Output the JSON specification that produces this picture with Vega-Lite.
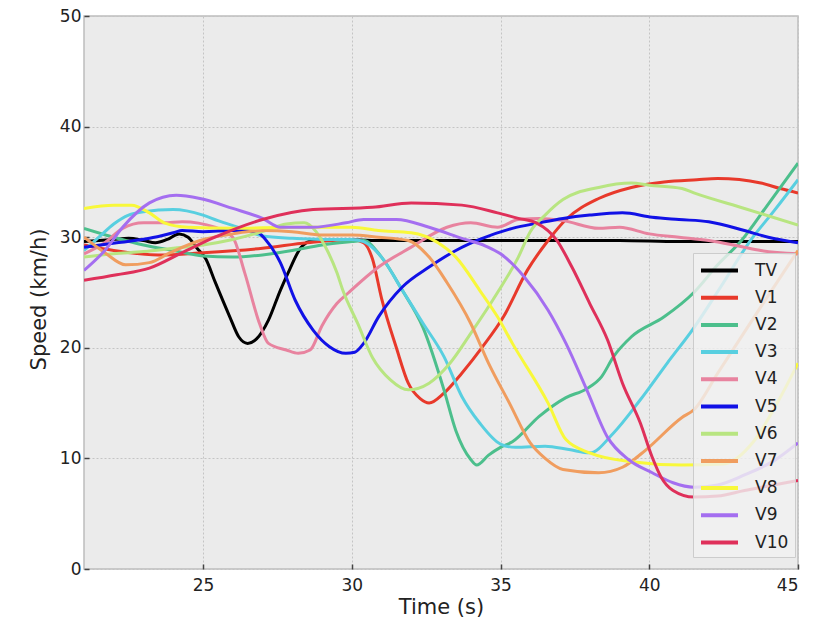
{
"$schema":"https://vega.github.io/schema/vega-lite/v6.json",
"width":714,"height":553,
"autosize":{"type":"none"},
"padding":{"left":84,"top":16,"right":33,"bottom":55},
"background":"white",
"datasets":{"d":[
{"s":"TV","t":21,"v":29.6},{"s":"TV","t":21.5,"v":29.7},{"s":"TV","t":22,"v":29.8},{"s":"TV","t":22.5,"v":29.9},{"s":"TV","t":23,"v":29.7},{"s":"TV","t":23.4,"v":29.5},{"s":"TV","t":23.8,"v":29.8},{"s":"TV","t":24.2,"v":30.3},{"s":"TV","t":24.5,"v":30},{"s":"TV","t":24.8,"v":29},{"s":"TV","t":25.1,"v":28},{"s":"TV","t":25.4,"v":26},{"s":"TV","t":25.9,"v":22.8},{"s":"TV","t":26.2,"v":21},{"s":"TV","t":26.5,"v":20.4},{"s":"TV","t":26.8,"v":20.8},{"s":"TV","t":27.2,"v":22.5},{"s":"TV","t":27.6,"v":25.2},{"s":"TV","t":27.9,"v":27},{"s":"TV","t":28.3,"v":29.1},{"s":"TV","t":28.7,"v":29.7},{"s":"TV","t":29.5,"v":29.8},{"s":"TV","t":31,"v":29.7},{"s":"TV","t":33,"v":29.7},{"s":"TV","t":35,"v":29.7},{"s":"TV","t":37,"v":29.7},{"s":"TV","t":39,"v":29.7},{"s":"TV","t":41,"v":29.6},{"s":"TV","t":43,"v":29.6},{"s":"TV","t":45,"v":29.6},

{"s":"V1","t":21,"v":29.3},{"s":"V1","t":22,"v":28.8},{"s":"V1","t":23.5,"v":28.4},{"s":"V1","t":25,"v":28.6},{"s":"V1","t":27,"v":29},{"s":"V1","t":28.5,"v":29.5},{"s":"V1","t":30,"v":29.8},{"s":"V1","t":30.4,"v":29.5},{"s":"V1","t":30.7,"v":28},{"s":"V1","t":31,"v":24.5},{"s":"V1","t":31.5,"v":20},{"s":"V1","t":31.9,"v":16.8},{"s":"V1","t":32.3,"v":15.4},{"s":"V1","t":32.6,"v":15},{"s":"V1","t":33.1,"v":15.9},{"s":"V1","t":33.7,"v":17.7},{"s":"V1","t":34.4,"v":20.1},{"s":"V1","t":35.1,"v":22.8},{"s":"V1","t":35.9,"v":27},{"s":"V1","t":36.6,"v":29.7},{"s":"V1","t":37.2,"v":31.6},{"s":"V1","t":38.3,"v":33.5},{"s":"V1","t":39.4,"v":34.5},{"s":"V1","t":40.5,"v":35},{"s":"V1","t":41.6,"v":35.2},{"s":"V1","t":42.3,"v":35.3},{"s":"V1","t":43.75,"v":34.9},{"s":"V1","t":44.4,"v":34.4},{"s":"V1","t":45,"v":34},

{"s":"V2","t":21,"v":30.8},{"s":"V2","t":22,"v":30},{"s":"V2","t":23,"v":29.3},{"s":"V2","t":24,"v":28.8},{"s":"V2","t":25,"v":28.3},{"s":"V2","t":26,"v":28.2},{"s":"V2","t":27,"v":28.4},{"s":"V2","t":28,"v":28.8},{"s":"V2","t":29,"v":29.3},{"s":"V2","t":30,"v":29.6},{"s":"V2","t":30.4,"v":29.7},{"s":"V2","t":31,"v":28.2},{"s":"V2","t":31.7,"v":25.2},{"s":"V2","t":32.4,"v":21.8},{"s":"V2","t":33.1,"v":16.2},{"s":"V2","t":33.5,"v":12.5},{"s":"V2","t":34,"v":9.9},{"s":"V2","t":34.2,"v":9.4},{"s":"V2","t":34.6,"v":10.3},{"s":"V2","t":35,"v":11},{"s":"V2","t":35.4,"v":11.5},{"s":"V2","t":36.3,"v":13.8},{"s":"V2","t":37.2,"v":15.5},{"s":"V2","t":37.9,"v":16.3},{"s":"V2","t":38.4,"v":17.4},{"s":"V2","t":38.8,"v":19.2},{"s":"V2","t":39.4,"v":21},{"s":"V2","t":40.5,"v":22.8},{"s":"V2","t":41.5,"v":25},{"s":"V2","t":42.3,"v":27.5},{"s":"V2","t":43.1,"v":29.7},{"s":"V2","t":44,"v":33},{"s":"V2","t":45,"v":36.7},

{"s":"V3","t":21,"v":28.8},{"s":"V3","t":21.5,"v":30},{"s":"V3","t":22,"v":31.2},{"s":"V3","t":22.5,"v":32},{"s":"V3","t":23,"v":32.3},{"s":"V3","t":24,"v":32.5},{"s":"V3","t":25,"v":32},{"s":"V3","t":25.5,"v":31.5},{"s":"V3","t":26.3,"v":30.8},{"s":"V3","t":27,"v":30.1},{"s":"V3","t":28,"v":29.9},{"s":"V3","t":29,"v":29.8},{"s":"V3","t":30,"v":29.8},{"s":"V3","t":30.4,"v":29.6},{"s":"V3","t":31,"v":28.2},{"s":"V3","t":31.7,"v":25.2},{"s":"V3","t":32.4,"v":22.2},{"s":"V3","t":33.1,"v":19.2},{"s":"V3","t":33.7,"v":15.6},{"s":"V3","t":34.3,"v":13.2},{"s":"V3","t":35,"v":11.3},{"s":"V3","t":35.5,"v":11},{"s":"V3","t":36.5,"v":11.1},{"s":"V3","t":37.3,"v":10.8},{"s":"V3","t":38,"v":10.5},{"s":"V3","t":38.8,"v":12.3},{"s":"V3","t":39.7,"v":15.3},{"s":"V3","t":40.6,"v":18.6},{"s":"V3","t":41.5,"v":21.8},{"s":"V3","t":42.4,"v":25.5},{"s":"V3","t":43.4,"v":29.7},{"s":"V3","t":44.2,"v":32.4},{"s":"V3","t":45,"v":35.2},

{"s":"V4","t":21,"v":28.5},{"s":"V4","t":21.7,"v":29.5},{"s":"V4","t":22.3,"v":30.8},{"s":"V4","t":23,"v":31.3},{"s":"V4","t":23.7,"v":31.3},{"s":"V4","t":24.3,"v":31.4},{"s":"V4","t":25.4,"v":30.9},{"s":"V4","t":26,"v":30},{"s":"V4","t":26.4,"v":26.8},{"s":"V4","t":26.9,"v":22.2},{"s":"V4","t":27.2,"v":20.4},{"s":"V4","t":27.8,"v":19.8},{"s":"V4","t":28.2,"v":19.5},{"s":"V4","t":28.6,"v":19.8},{"s":"V4","t":29,"v":22},{"s":"V4","t":29.5,"v":24},{"s":"V4","t":29.9,"v":25},{"s":"V4","t":30.9,"v":27.3},{"s":"V4","t":32,"v":29.1},{"s":"V4","t":33.2,"v":30.9},{"s":"V4","t":34,"v":31.3},{"s":"V4","t":34.9,"v":30.9},{"s":"V4","t":35.6,"v":31.6},{"s":"V4","t":36.3,"v":31.7},{"s":"V4","t":37.1,"v":31.5},{"s":"V4","t":38.3,"v":30.8},{"s":"V4","t":39,"v":30.9},{"s":"V4","t":40,"v":30.3},{"s":"V4","t":41,"v":30},{"s":"V4","t":42,"v":29.7},{"s":"V4","t":43,"v":29.2},{"s":"V4","t":43.75,"v":28.8},{"s":"V4","t":45,"v":28.5},

{"s":"V5","t":21,"v":29.1},{"s":"V5","t":22.1,"v":29.5},{"s":"V5","t":23.2,"v":29.9},{"s":"V5","t":24,"v":30.4},{"s":"V5","t":24.3,"v":30.6},{"s":"V5","t":25,"v":30.5},{"s":"V5","t":26,"v":30.6},{"s":"V5","t":26.8,"v":30.5},{"s":"V5","t":27.1,"v":29.8},{"s":"V5","t":27.6,"v":27.7},{"s":"V5","t":28.1,"v":24.3},{"s":"V5","t":28.7,"v":21.6},{"s":"V5","t":29.25,"v":20.1},{"s":"V5","t":29.8,"v":19.5},{"s":"V5","t":30.1,"v":19.6},{"s":"V5","t":30.4,"v":20.4},{"s":"V5","t":30.9,"v":22.8},{"s":"V5","t":31.7,"v":25.5},{"s":"V5","t":32.6,"v":27.3},{"s":"V5","t":33.5,"v":28.8},{"s":"V5","t":34.3,"v":29.8},{"s":"V5","t":35.4,"v":30.8},{"s":"V5","t":36.3,"v":31.3},{"s":"V5","t":37.1,"v":31.7},{"s":"V5","t":38,"v":32},{"s":"V5","t":39.1,"v":32.2},{"s":"V5","t":40.1,"v":31.8},{"s":"V5","t":41,"v":31.6},{"s":"V5","t":42,"v":31.4},{"s":"V5","t":43.2,"v":30.6},{"s":"V5","t":44,"v":30},{"s":"V5","t":45,"v":29.5},

{"s":"V6","t":21,"v":28.2},{"s":"V6","t":22,"v":28.5},{"s":"V6","t":23,"v":28.7},{"s":"V6","t":24,"v":29},{"s":"V6","t":25,"v":29.3},{"s":"V6","t":26,"v":29.8},{"s":"V6","t":27,"v":30.5},{"s":"V6","t":27.8,"v":31.2},{"s":"V6","t":28.4,"v":31.3},{"s":"V6","t":28.8,"v":30.5},{"s":"V6","t":29.1,"v":29.2},{"s":"V6","t":29.5,"v":26.8},{"s":"V6","t":29.7,"v":25.2},{"s":"V6","t":30.2,"v":22.2},{"s":"V6","t":30.7,"v":19.1},{"s":"V6","t":31.3,"v":17.1},{"s":"V6","t":31.9,"v":16.2},{"s":"V6","t":32.6,"v":16.8},{"s":"V6","t":33.3,"v":18.6},{"s":"V6","t":34,"v":21.3},{"s":"V6","t":34.9,"v":25},{"s":"V6","t":35.6,"v":28.2},{"s":"V6","t":36,"v":30.5},{"s":"V6","t":36.5,"v":32},{"s":"V6","t":37.1,"v":33.4},{"s":"V6","t":38.3,"v":34.5},{"s":"V6","t":39.4,"v":34.9},{"s":"V6","t":40,"v":34.7},{"s":"V6","t":41.1,"v":34.4},{"s":"V6","t":41.5,"v":34},{"s":"V6","t":43.2,"v":32.6},{"s":"V6","t":45,"v":31.1},

{"s":"V7","t":21,"v":30},{"s":"V7","t":21.7,"v":28.6},{"s":"V7","t":22.4,"v":27.5},{"s":"V7","t":23.2,"v":27.7},{"s":"V7","t":23.9,"v":28.6},{"s":"V7","t":24.9,"v":29.7},{"s":"V7","t":26,"v":30.3},{"s":"V7","t":27,"v":30.6},{"s":"V7","t":28,"v":30.5},{"s":"V7","t":29,"v":30.2},{"s":"V7","t":30,"v":30.2},{"s":"V7","t":30.9,"v":30},{"s":"V7","t":31.9,"v":29.7},{"s":"V7","t":32.6,"v":28.2},{"s":"V7","t":33.2,"v":25.9},{"s":"V7","t":34,"v":22.2},{"s":"V7","t":34.6,"v":18.6},{"s":"V7","t":35.3,"v":15},{"s":"V7","t":36,"v":11.4},{"s":"V7","t":36.5,"v":10},{"s":"V7","t":37.1,"v":9},{"s":"V7","t":38.3,"v":8.7},{"s":"V7","t":39.1,"v":9.2},{"s":"V7","t":39.9,"v":10.8},{"s":"V7","t":41.1,"v":13.7},{"s":"V7","t":41.5,"v":14.4},{"s":"V7","t":42.3,"v":17.7},{"s":"V7","t":43.75,"v":23.7},{"s":"V7","t":45,"v":28.8},

{"s":"V8","t":21,"v":32.6},{"s":"V8","t":22,"v":32.9},{"s":"V8","t":22.6,"v":32.9},{"s":"V8","t":23.2,"v":32.2},{"s":"V8","t":23.7,"v":31.3},{"s":"V8","t":24.5,"v":30.9},{"s":"V8","t":26,"v":30.8},{"s":"V8","t":28,"v":30.9},{"s":"V8","t":30,"v":30.9},{"s":"V8","t":30.9,"v":30.6},{"s":"V8","t":32,"v":30.4},{"s":"V8","t":32.9,"v":29.5},{"s":"V8","t":33.5,"v":28.2},{"s":"V8","t":34.3,"v":25.2},{"s":"V8","t":34.9,"v":22.8},{"s":"V8","t":35.4,"v":20.4},{"s":"V8","t":36.6,"v":15},{"s":"V8","t":37.2,"v":11.7},{"s":"V8","t":38,"v":10.5},{"s":"V8","t":39.4,"v":9.7},{"s":"V8","t":41.1,"v":9.4},{"s":"V8","t":42.5,"v":9.5},{"s":"V8","t":43.5,"v":11.5},{"s":"V8","t":44.3,"v":15},{"s":"V8","t":45,"v":18.6},

{"s":"V9","t":21,"v":27},{"s":"V9","t":21.7,"v":28.8},{"s":"V9","t":22.3,"v":30.9},{"s":"V9","t":23.2,"v":33.1},{"s":"V9","t":24.1,"v":33.8},{"s":"V9","t":24.9,"v":33.5},{"s":"V9","t":26,"v":32.6},{"s":"V9","t":27,"v":31.7},{"s":"V9","t":27.6,"v":30.9},{"s":"V9","t":28.7,"v":30.9},{"s":"V9","t":29.8,"v":31.3},{"s":"V9","t":30.4,"v":31.6},{"s":"V9","t":31.5,"v":31.6},{"s":"V9","t":32.6,"v":30.9},{"s":"V9","t":33.7,"v":29.9},{"s":"V9","t":34.5,"v":29.2},{"s":"V9","t":35,"v":28.5},{"s":"V9","t":35.8,"v":26.4},{"s":"V9","t":36.6,"v":23.4},{"s":"V9","t":37.2,"v":20.4},{"s":"V9","t":37.9,"v":16.2},{"s":"V9","t":38.6,"v":11.9},{"s":"V9","t":39.3,"v":9.9},{"s":"V9","t":40.1,"v":8.7},{"s":"V9","t":40.8,"v":7.8},{"s":"V9","t":41.5,"v":7.4},{"s":"V9","t":42.3,"v":7.6},{"s":"V9","t":43.2,"v":8.5},{"s":"V9","t":44.2,"v":9.8},{"s":"V9","t":45,"v":11.4},

{"s":"V10","t":21,"v":26.1},{"s":"V10","t":22.1,"v":26.6},{"s":"V10","t":23.2,"v":27.2},{"s":"V10","t":24.3,"v":28.6},{"s":"V10","t":25.4,"v":30},{"s":"V10","t":27,"v":31.6},{"s":"V10","t":28.7,"v":32.5},{"s":"V10","t":30.7,"v":32.7},{"s":"V10","t":32,"v":33.1},{"s":"V10","t":33.7,"v":32.9},{"s":"V10","t":34.9,"v":32.2},{"s":"V10","t":35.6,"v":31.7},{"s":"V10","t":36.2,"v":31.3},{"s":"V10","t":36.9,"v":29.7},{"s":"V10","t":37.4,"v":27.3},{"s":"V10","t":38,"v":24},{"s":"V10","t":38.6,"v":20.7},{"s":"V10","t":39.1,"v":16.8},{"s":"V10","t":39.7,"v":13.2},{"s":"V10","t":40.1,"v":10.1},{"s":"V10","t":40.4,"v":8.3},{"s":"V10","t":40.8,"v":7.1},{"s":"V10","t":41.5,"v":6.5},{"s":"V10","t":42.3,"v":6.6},{"s":"V10","t":43.2,"v":7.1},{"s":"V10","t":44,"v":7.5},{"s":"V10","t":45,"v":8}
]},
"data":{"name":"d"},
"mark":{"type":"line","interpolate":"monotone","strokeWidth":3,"clip":true},
"encoding":{
"x":{"field":"t","type":"quantitative","scale":{"domain":[21,45],"nice":false,"zero":false},
"axis":{"title":"Time (s)","values":[25,30,35,40,45],"grid":true}},
"y":{"field":"v","type":"quantitative","scale":{"domain":[0,50],"nice":false},
"axis":{"title":"Speed (km/h)","values":[0,10,20,30,40,50],"grid":true,"titleY":283}},
"color":{"field":"s","type":"nominal","sort":["TV","V1","V2","V3","V4","V5","V6","V7","V8","V9","V10"],
"scale":{"domain":["TV","V1","V2","V3","V4","V5","V6","V7","V8","V9","V10"],
"range":["#000000","#e8392b","#4cbf8c","#58cfe0","#e8839f","#1111e6","#b8e581","#f09d5f","#f8f83a","#a46ef0","#df305a"]},
"legend":{"title":null,"orient":"none","legendX":609,"legendY":237,"symbolType":"M-2,0H2","symbolSize":342,"symbolStrokeWidth":4,"symbolOffset":9,"labelFontSize":17,"labelOffset":24,"rowPadding":7.2,"padding":6,"fillColor":"rgba(240,240,240,0.82)","strokeColor":"#cccccc","labelColor":"#222222"}},
"order":{"field":"s"}
},
"config":{
"font":"DejaVu Sans",
"view":{"fill":"#ebebeb","stroke":"#bdbdbd","strokeWidth":1.5},
"axis":{"domain":false,"gridDash":[2,2],"gridColor":"#c4c4c4","gridWidth":1,"tickColor":"#444444","tickSize":-5,"tickWidth":1.5,"labelFontSize":17,"labelColor":"#222222","titleFontSize":21,"titleFontWeight":"normal","titleColor":"#222222","labelPadding":8},
"axisX":{"titlePadding":3,"labelPadding":13},
"axisY":{"titlePadding":10}
}
}
